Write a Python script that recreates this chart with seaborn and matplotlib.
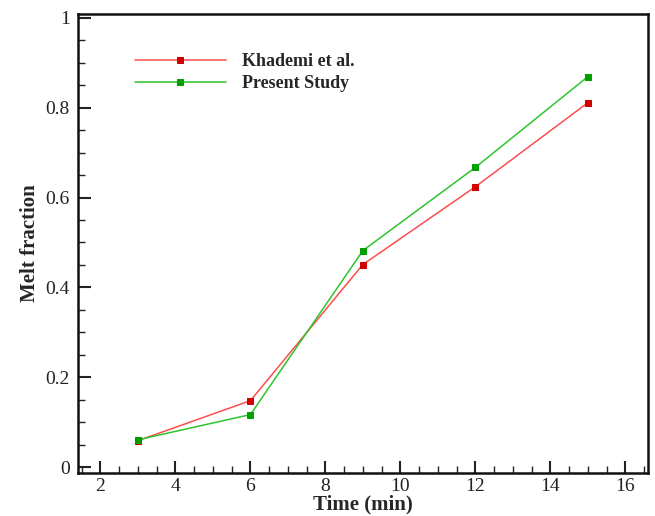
import matplotlib
matplotlib.use("Agg")
import matplotlib.pyplot as plt
import seaborn as sns
import pandas as pd
from matplotlib.ticker import MultipleLocator

time_min = [3, 6, 9, 12, 15]
khademi = [0.059, 0.148, 0.451, 0.624, 0.811]
present = [0.061, 0.117, 0.482, 0.667, 0.869]
series_names = ["Khademi et al.", "Present Study"]

df = pd.DataFrame({
    "Time": time_min * 2,
    "Melt": khademi + present,
    "Series": [series_names[0]] * len(time_min) + [series_names[1]] * len(time_min),
})

sns.set_style("white")
plt.rcParams["font.family"] = ["Liberation Serif", "DejaVu Serif"]

fig = plt.figure(figsize=(6.55, 5.16), dpi=100)
ax = fig.add_axes([0.119, 0.0833, 0.870, 0.890])

line_colors = {series_names[0]: "#ff4d4d", series_names[1]: "#2ec42e"}
marker_colors = {series_names[0]: "#d00000", series_names[1]: "#00a000"}

sns.lineplot(data=df, x="Time", y="Melt", hue="Series", palette=line_colors,
             marker="s", markersize=5, linewidth=1.1, ax=ax, legend=False)
for line, name in zip(ax.get_lines(), series_names):
    line.set_markerfacecolor(marker_colors[name])
    line.set_markeredgecolor(marker_colors[name])
    line.set_label(name)

ax.set_xlim(1.4, 16.6)
ax.set_ylim(-0.013, 1.009)
ax.xaxis.set_major_locator(MultipleLocator(2))
ax.xaxis.set_minor_locator(MultipleLocator(0.5))
ax.yaxis.set_major_locator(MultipleLocator(0.2))
ax.yaxis.set_minor_locator(MultipleLocator(0.05))
ax.set_yticks([0, 0.2, 0.4, 0.6, 0.8, 1.0])
ax.set_yticklabels(["0", "0.2", "0.4", "0.6", "0.8", "1"])

ax.tick_params(axis="both", which="major", direction="in", length=9, width=1.5,
               labelsize=14, colors="#222222", top=False, right=False, bottom=True, left=True)
ax.tick_params(axis="y", which="major", pad=6)
ax.tick_params(axis="both", which="minor", direction="in", length=5, width=1.0,
               top=False, right=False, bottom=True, left=True, colors="#222222")
for s in ax.spines.values():
    s.set_linewidth(1.8)
    s.set_color("#111111")

ax.set_xlabel("Time (min)", fontsize=15, fontweight="bold", labelpad=0)
ax.set_ylabel("Melt fraction", fontsize=15, fontweight="bold", labelpad=4)

leg = ax.legend(loc="upper left", bbox_to_anchor=(0.072, 0.95), frameon=False,
                prop={"weight": "bold", "size": 13}, handlelength=5.0,
                handletextpad=0.9, labelspacing=0.3)

fig.savefig("out.png", dpi=100)
